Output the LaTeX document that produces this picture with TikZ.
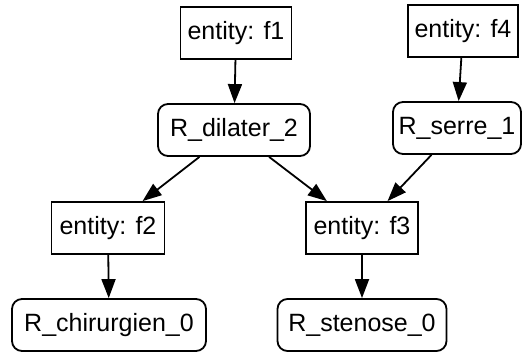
\documentclass[tikz,border=0pt]{standalone}
\usepackage{fontspec}
\setmainfont{Liberation Sans}
\usetikzlibrary{arrows.meta}
\begin{document}
\begin{tikzpicture}[x=1pt,y=-1pt,
  ent/.style={draw,line width=1.8pt,minimum height=52pt,inner sep=0pt,font=\fontsize{25}{29}\selectfont},
  rule/.style={ent,rounded corners=10pt},
  edge/.style={draw,line width=1.8pt,-{Triangle[length=19pt,width=14pt]}}]
\useasboundingbox (0,0) rectangle (525,351);
\node[ent,minimum width=111pt] (f1) at (236,33) {entity: f1};
\node[ent,minimum width=110pt] (f4) at (463,31) {entity: f4};
\node[rule,minimum width=152pt] (dil) at (234,130) {R\_dilater\_2};
\node[rule,minimum width=128pt] (serre) at (457,128) {R\_serre\_1};
\node[ent,minimum width=113pt] (f2) at (108,228) {entity: f2};
\node[ent,minimum width=112pt] (f3) at (362,228) {entity: f3};
\node[rule,minimum width=194pt] (chir) at (109,325) {R\_chirurgien\_0};
\node[rule,minimum width=169pt] (sten) at (362,325) {R\_stenose\_0};
\path[edge] (f1) -- (dil);
\path[edge] (f4) -- (serre);
\path[edge] (dil) -- (f2);
\path[edge] (dil) -- (f3);
\path[edge] (serre) -- (f3);
\path[edge] (f2) -- (chir);
\path[edge] (f3) -- (sten);
\end{tikzpicture}
\end{document}
